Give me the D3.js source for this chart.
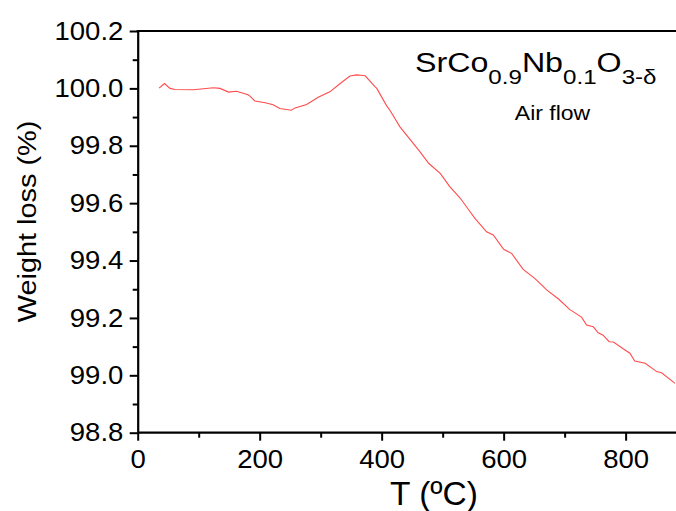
<!DOCTYPE html>
<html>
<head>
<meta charset="utf-8">
<script src="https://cdn.jsdelivr.net/npm/d3@7"></script>
<style>
  body { margin: 0; background: #fff; }
  svg { display: block; font-family: "Liberation Sans", Arial, sans-serif; }
</style>
</head>
<body>
<div id="chart"></div>
<script>
// TGA curve
const temperature = [35, 44, 53, 61, 91, 108, 124, 135, 149, 162, 181, 184, 192, 209, 222, 233, 252, 258,
  277, 296, 315, 332, 348, 359, 366, 373, 389, 392, 408, 414, 430, 463, 477, 496, 512, 529, 545, 553,
  572, 583, 600, 613, 632, 651, 671, 690, 709, 714, 728, 736, 747, 755, 763, 773, 780, 799, 807, 815,
  832, 851, 859, 881];
const weight = [100.001, 100.017, 100.000, 99.996, 99.995, 99.999, 100.002, 100.000, 99.987, 99.990,
  99.978, 99.973, 99.956, 99.950, 99.943, 99.930, 99.924, 99.932, 99.944, 99.969, 99.988, 100.017,
  100.043, 100.047, 100.046, 100.044, 100.006, 100.000, 99.940, 99.922, 99.866, 99.779, 99.739, 99.704,
  99.657, 99.617, 99.570, 99.547, 99.500, 99.489, 99.439, 99.425, 99.369, 99.338, 99.297, 99.266,
  99.228, 99.222, 99.202, 99.175, 99.169, 99.148, 99.140, 99.117, 99.116, 99.088, 99.077, 99.050,
  99.042, 99.013, 99.009, 98.972];

const xTicks = [0, 200, 400, 600, 800];
const xMinorTicks = [100, 300, 500, 700];
const yTicks = [98.8, 99.0, 99.2, 99.4, 99.6, 99.8, 100.0, 100.2];
const yMinorTicks = [98.9, 99.1, 99.3, 99.5, 99.7, 99.9, 100.1];

const svgWidth = 676, svgHeight = 511;
const plotLeft = 137.7, plotTop = 31, plotBottom = 432.7;
const pxPerDegree = 0.6099;

const svg = d3.select('#chart')
  .append('svg')
  .attr('width', svgWidth)
  .attr('height', svgHeight);

const x = d3.scaleLinear().domain([0, 900]).range([plotLeft, plotLeft + 900 * pxPerDegree]);
const y = d3.scaleLinear().domain([98.8, 100.2]).range([plotBottom, plotTop]);

// minor ticks first, so the major axis sits on top
svg.append('g')
  .attr('transform', `translate(0, ${plotBottom})`)
  .call(d3.axisBottom(x).tickValues(xMinorTicks).tickSize(5).tickFormat(''))
  .call(g => g.select('.domain').remove());

svg.append('g')
  .attr('transform', `translate(${plotLeft}, 0)`)
  .call(d3.axisLeft(y).tickValues(yMinorTicks).tickSize(5).tickFormat(''))
  .call(g => g.select('.domain').remove());

// x axis
const xAxis = svg.append('g')
  .attr('transform', `translate(0, ${plotBottom})`)
  .call(d3.axisBottom(x).tickValues(xTicks).tickSize(8).tickSizeOuter(0).tickPadding(9).tickFormat(d3.format('d')));

xAxis.select('.domain').attr('d', `M${plotLeft},0H${svgWidth}`);
xAxis.selectAll('text')
  .attr('font-size', 25.5)
  .attr('font-family', '"Liberation Sans", Arial, sans-serif')
  .attr('fill', '#000')
  .attr('transform', 'scale(1.08,1)');

// y axis
const yAxis = svg.append('g')
  .attr('transform', `translate(${plotLeft}, 0)`)
  .call(d3.axisLeft(y).tickValues(yTicks).tickSize(8).tickSizeOuter(0).tickPadding(5.3).tickFormat(d3.format('.1f')));

yAxis.selectAll('text')
  .attr('font-size', 25.5)
  .attr('font-family', '"Liberation Sans", Arial, sans-serif')
  .attr('fill', '#000')
  .attr('transform', 'scale(1.08,1)');

svg.selectAll('.domain').attr('stroke-width', 2.2);
svg.selectAll('.tick line').attr('stroke-width', 2);

// top frame line
svg.append('line')
  .attr('x1', plotLeft - 1.1)
  .attr('x2', svgWidth)
  .attr('y1', plotTop)
  .attr('y2', plotTop)
  .attr('stroke', '#000')
  .attr('stroke-width', 2.2);

// the curve
const line = d3.line()
  .x((d, i) => x(temperature[i]))
  .y(d => y(d));

svg.append('path')
  .datum(weight)
  .attr('d', line)
  .attr('fill', 'none')
  .attr('stroke', '#ff4c4c')
  .attr('stroke-width', 1.1);

// axis titles
svg.append('text')
  .attr('transform', 'translate(434, 505)')
  .attr('text-anchor', 'middle')
  .attr('font-size', 33.5)
  .text('T (ºC)');

svg.append('text')
  .attr('transform', 'translate(36, 221.5) rotate(-90) scale(1.09,1)')
  .attr('text-anchor', 'middle')
  .attr('font-size', 26.5)
  .text('Weight loss (%)');

// compound label
const formula = svg.append('text')
  .attr('transform', 'translate(415, 71.7) scale(1.15,1)')
  .attr('font-size', 28);

const parts = [['SrCo', false], ['0.9', true], ['Nb', false], ['0.1', true], ['O', false], ['3-δ', true]];
parts.forEach(([t, sub], i) => {
  formula.append('tspan')
    .attr('font-size', sub ? 21 : 28)
    .attr('dy', i === 0 ? 0 : (sub ? 12.6 : -12.6))
    .text(t);
});

svg.append('text')
  .attr('transform', 'translate(552.5, 120) scale(1.15,1)')
  .attr('text-anchor', 'middle')
  .attr('font-size', 20)
  .text('Air flow');
</script>
</body>
</html>
